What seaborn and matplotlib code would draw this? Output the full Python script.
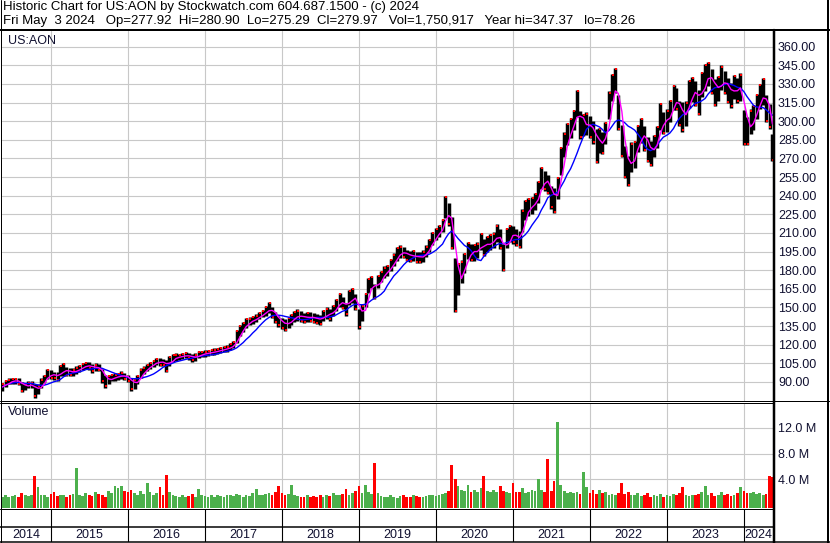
import numpy as np
import pandas as pd
import matplotlib
matplotlib.use("Agg")
import matplotlib.pyplot as plt
import seaborn as sns
from matplotlib.lines import Line2D

# semi-monthly readings, mid-May 2014 .. May 2024 (price in USD, volume in millions)
mid = [86, 89, 90.5, 91, 91, 90.5, 86, 86.5, 88, 88, 83, 84, 89, 92.5, 96.5, 96, 95, 94.5, 99, 100, 98.5, 98, 98, 99.5,
       101, 102.5, 103.5, 103, 101, 102, 101.5, 95, 90.5, 92, 93.5, 94, 94.5, 95.5, 94.5, 93, 88, 88.5, 92, 97, 99.5, 101.5, 103.5, 105,
       106.5, 106, 105.5, 103, 107, 109.5, 110, 110.3, 111, 111.7, 110.5, 109.5, 110, 112, 112.5, 113, 113.5, 114, 114.5, 115, 116, 116.5, 117, 118.5,
       120, 126.5, 131.5, 134.5, 137.5, 139, 140, 141.5, 143.5, 145, 147, 150, 146, 142, 139, 137, 136, 138, 140.5, 142.5, 144, 142.5, 141.5, 142.5,
       142, 141.5, 140.5, 140, 143.5, 145.5, 144, 147.5, 152, 156, 153.5, 148.5, 158, 160, 154.5, 141, 146, 156, 168, 170.5, 163, 171, 175, 178.5,
       180, 184, 188.5, 193, 195, 194, 192, 191, 192, 190.5, 190, 191.5, 195.5, 200, 205.5, 209, 211.5, 216, 231, 225, 210, 168, 173, 179,
       186, 196, 194.5, 194.5, 196, 203, 198.5, 201, 203, 204, 210, 205, 190, 206, 209.5, 208.5, 206.5, 204.5, 220, 228.5, 231, 232, 235.5, 243,
       254, 252, 249, 238.5, 236, 246, 268, 281, 289.5, 294.5, 301, 314, 297, 297, 298, 295.5, 291, 280, 284.5, 282.5, 290.5, 313, 327, 333,
       307, 284, 267, 260, 271, 273, 286, 292.5, 286, 277, 274, 280, 287, 303.5, 298.5, 300.5, 308, 319, 318, 306, 303.5, 306, 322, 325.5,
       322, 315, 329.5, 335, 338, 332, 323, 326.5, 335, 331, 324.5, 321, 327.5, 325, 327.5, 295, 292, 299.5, 303, 312, 320, 324, 310, 304, 279]

# high-low spread of each half month
rng = [6, 6, 5, 5, 5, 6, 8, 6, 5, 5, 11, 8, 8, 6, 8, 7, 6, 7, 9, 11, 7, 6, 6, 6,
       6, 6, 6, 6, 7, 6, 6, 11, 10, 8, 6, 6, 6, 6, 6, 6, 10, 9, 8, 8, 6, 6, 6, 6,
       6, 6, 6, 10, 8, 6, 6, 5, 5, 5, 5, 6, 6, 6, 5, 5, 5, 5, 5, 5, 5, 5, 5, 6,
       6, 11, 9, 8, 8, 6, 6, 6, 6, 6, 8, 9, 9, 9, 9, 9, 10, 9, 9, 9, 9, 9, 8, 8,
       8, 8, 8, 8, 9, 9, 9, 9, 10, 12, 10, 10, 12, 12, 13, 16, 13, 12, 12, 10, 12, 10, 9, 9,
       9, 10, 10, 11, 10, 9, 9, 9, 9, 9, 9, 9, 9, 10, 11, 10, 10, 11, 18, 18, 26, 44, 26, 18,
       16, 14, 14, 14, 13, 14, 14, 13, 13, 13, 14, 16, 22, 16, 14, 14, 14, 14, 18, 16, 14, 14, 14, 18,
       18, 16, 16, 18, 20, 18, 22, 20, 18, 16, 16, 22, 22, 18, 18, 18, 18, 28, 20, 18, 18, 22, 22, 20,
       28, 26, 26, 24, 24, 22, 22, 20, 20, 20, 20, 18, 18, 22, 18, 18, 18, 20, 18, 20, 24, 20, 22, 20,
       20, 20, 20, 22, 20, 20, 22, 20, 20, 18, 20, 20, 20, 20, 22, 28, 22, 20, 20, 20, 20, 22, 22, 20, 22]

vol = [1.3, 1.5, 1.2, 1.4, 1.6, 1.3, 1.8, 1.5, 1.4, 1.6, 4.5, 2.8, 1.6, 1.5, 1.3, 1.7, 2.0, 1.4, 1.5, 1.6, 1.3, 1.5, 1.7, 5.7,
       1.5, 1.4, 1.8, 1.6, 1.4, 2.0, 1.7, 1.5, 1.3, 2.2, 1.8, 3.0, 2.6, 3.0, 2.2, 2.0, 2.4, 1.8, 1.6, 2.2, 1.7, 3.4, 2.0, 1.6,
       1.8, 2.8, 1.5, 4.6, 2.0, 1.6, 1.4, 1.3, 1.5, 1.2, 1.4, 1.7, 1.3, 2.5, 1.6, 1.4, 1.3, 1.5, 1.2, 1.6, 1.4, 1.3, 1.6, 1.5,
       1.4, 1.7, 1.5, 1.3, 1.6, 1.4, 1.8, 2.5, 1.6, 1.5, 1.7, 1.9, 1.6, 2.0, 2.9, 1.8, 1.5, 1.7, 3.1, 1.6, 1.4, 1.3, 1.2, 1.5,
       1.3, 1.4, 1.2, 1.6, 1.3, 1.5, 1.4, 1.8, 1.6, 1.5, 1.7, 2.5, 1.6, 1.9, 2.2, 2.9, 1.8, 3.1, 2.0, 1.7, 6.6, 1.8, 1.4, 1.3,
       1.2, 1.5, 1.3, 1.1, 1.4, 1.6, 1.2, 1.3, 1.5, 1.4, 1.2, 1.3, 1.4, 1.5, 1.6, 1.4, 1.5, 1.7, 1.9, 2.2, 6.2, 4.0, 3.0, 2.4,
       2.2, 3.1, 2.0, 2.3, 2.0, 2.6, 4.5, 2.2, 2.0, 2.4, 2.1, 2.9, 2.2, 2.0, 1.9, 3.4, 2.1, 2.0, 2.7, 1.9, 2.1, 2.3, 2.2, 4.0,
       2.4, 2.0, 7.2, 2.2, 3.8, 12.9, 3.1, 2.2, 1.9, 2.0, 1.8, 2.0, 1.7, 5.1, 2.8, 1.8, 2.4, 1.7, 2.4, 1.9, 2.0, 1.6, 1.7, 1.5,
       1.8, 3.5, 1.7, 2.1, 1.6, 1.5, 1.8, 1.4, 1.6, 1.9, 1.3, 1.5, 1.4, 1.7, 1.3, 1.6, 1.4, 1.7, 1.5, 1.8, 2.8, 1.6, 1.4, 1.5,
       1.6, 1.7, 2.0, 2.9, 1.5, 1.8, 1.4, 1.6, 2.0, 1.5, 1.7, 1.4, 1.6, 1.9, 2.8, 2.2, 1.8, 1.9, 2.1, 1.7, 1.8, 1.6, 1.7, 4.5, 4.3]

years = list(range(2014, 2025))
price_ticks = list(range(90, 361, 15))
vol_ticks = [4, 8, 12]

title = "Historic Chart for US:AON by Stockwatch.com 604.687.1500 - (c) 2024"
quote = "Fri May  3 2024   Op=277.92  Hi=280.90  Lo=275.29  Cl=279.97   Vol=1,750,917   Year hi=347.37   lo=78.26"

W, H = 830, 543
GRID = "#C8C8C8"
TXT = "#101030"

sns.set_theme(style="white")
plt.rcParams["font.family"] = ["Liberation Sans", "DejaVu Sans"]

dates = pd.date_range("2014-05-15", periods=len(mid), freq="SMS")
df = pd.DataFrame({
    "t": dates.year + (dates.dayofyear - 1) / 365.25,
    "mid": mid, "rng": rng, "vol": vol,
})
df["hi"] = df["mid"] + df["rng"] / 2
df["lo"] = df["mid"] - df["rng"] / 2
df["ma_fast"] = df["mid"].rolling(3, min_periods=1).mean()
df["ma_slow"] = df["mid"].rolling(9, min_periods=1).mean()
df["up"] = df["mid"].diff().fillna(0) >= 0

x0, x1 = 2015 - 49 / 77, 2024 + 29 / 77


def box(l, t, r, b):
    return [l / W, 1 - b / H, (r - l) / W, (b - t) / H]


def hline(y, xa, xb, lw=1.0):
    fig.add_artist(Line2D([xa / W, xb / W], [1 - y / H, 1 - y / H], color="black", lw=lw * 0.72))


def vline(x, ya, yb, lw=1.0):
    fig.add_artist(Line2D([x / W, x / W], [1 - ya / H, 1 - yb / H], color="black", lw=lw * 0.72))


fig = plt.figure(figsize=(W / 100, H / 100), dpi=100)
ax = fig.add_axes(box(2, 31, 773, 401))
axv = fig.add_axes(box(2, 403, 773, 508))
axs = fig.add_axes(box(2, 509, 773, 542))

# price panel
ax.vlines(df["t"], df["lo"], df["hi"], color="black", lw=2.5)
down = df[~df["up"]]
up = df[df["up"]]
ax.scatter(down["t"] + 0.008, down["lo"] + 1.0, color="red", marker="s", s=4, lw=0, zorder=3)
ax.scatter(up["t"] + 0.008, up["hi"] - 1.0, color="red", marker="s", s=4, lw=0, zorder=3)
sns.lineplot(data=df, x="t", y="ma_slow", ax=ax, color="#0000FF", lw=1.0, zorder=4)
sns.lineplot(data=df, x="t", y="ma_fast", ax=ax, color="#FF00FF", lw=1.0, zorder=5)
ax.set_xlim(x0, x1)
ax.set_ylim(74.7, 372.6)
ax.set_xticks(years[1:])
ax.set_yticks(price_ticks)
ax.set_yticklabels([f"{v:.2f}" for v in price_ticks])
ax.yaxis.tick_right()

# volume panel
floor = -0.46
colors = np.where(df["up"], "#4CB04C", "#FF0000")
axv.bar(df["t"], df["vol"] - floor, bottom=floor, width=0.85 / 24, color=colors, lw=0)
axv.set_xlim(x0, x1)
axv.set_ylim(floor, 15.85)
axv.set_xticks(years[1:])
axv.set_yticks(vol_ticks)
axv.set_yticklabels([f"{v:.1f} M" for v in vol_ticks])
axv.yaxis.tick_right()

for a in (ax, axv):
    a.grid(True, color=GRID, lw=0.8)
    a.set_axisbelow(True)
    a.set_xlabel("")
    a.set_ylabel("")
    a.tick_params(axis="x", length=0, labelbottom=False)
    a.tick_params(axis="y", length=0, pad=3.6, labelsize=9, labelcolor=TXT)
    for s in a.spines.values():
        s.set_visible(False)

# year strip
axs.set_xlim(x0, x1)
axs.set_ylim(0, 1)
axs.axis("off")
for y in years[1:]:
    axs.axvline(y, color="black", lw=0.8)
for y in years:
    c = (max(y, x0) + min(y + 1, x1)) / 2
    axs.text(c, 0.22, str(y), ha="center", va="center", fontsize=9, color=TXT)

# frame lines
hline(30, 0, W, 2)
hline(401, 0, W)
hline(403, 0, 773)
hline(509, 0, 773)
hline(526.5, 0, 773, 1.5)
hline(542, 0, W, 1.5)
vline(0.5, 0, H)
vline(774, 30, H, 2.5)
vline(828, 0, H, 2)

fig.text(3 / W, 1 - 1 / H, title, ha="left", va="top", fontsize=9.5, color="black")
fig.text(3 / W, 1 - 15 / H, quote, ha="left", va="top", fontsize=9.5, color="black")
fig.text(8 / W, 1 - 35 / H, "US:AON", ha="left", va="top", fontsize=9, color=TXT)
fig.text(8 / W, 1 - 406 / H, "Volume", ha="left", va="top", fontsize=9, color=TXT)

fig.savefig("out.png", dpi=100)
